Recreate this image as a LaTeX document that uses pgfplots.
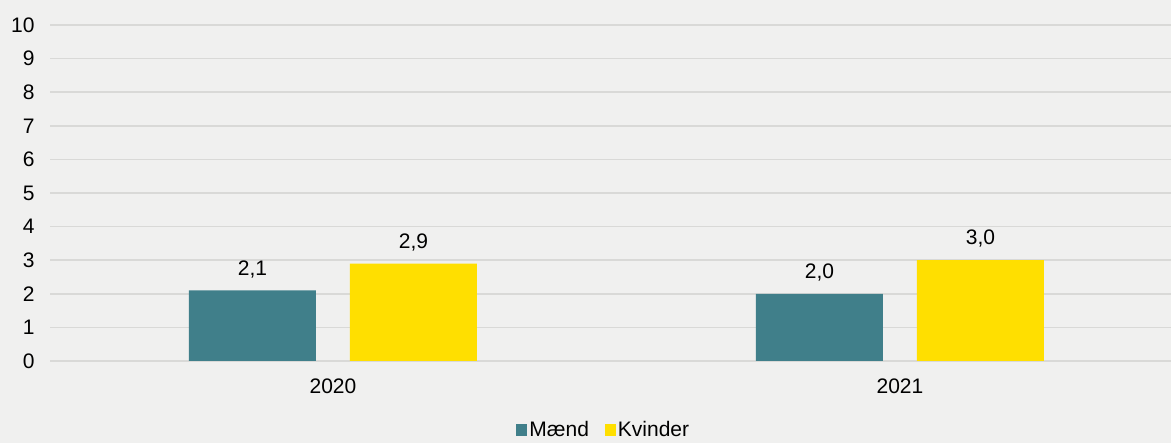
\documentclass[border=0pt]{standalone}
\usepackage{fontspec}
\setmainfont{Liberation Sans}
\usepackage{pgfplots}
\pgfplotsset{compat=1.18}
\definecolor{bg}{HTML}{F0F0EF}
\definecolor{grd}{HTML}{D9D9D7}
\definecolor{maend}{HTML}{407F8A}
\definecolor{kvinder}{HTML}{FFDF00}

\begin{document}
\begin{tikzpicture}[x=1pt,y=1pt]
\fill[bg] (0,0) rectangle (1171,443);
\useasboundingbox (0,0) rectangle (1171,443);
\begin{axis}[
    at={(50pt,82pt)}, anchor=south west,
    scale only axis, width=1121pt, height=336pt,
    xmin=-0.499, xmax=1.478, ymin=0, ymax=10,
    ybar=34pt, bar width=127pt,
    axis line style={draw=none},
    ytick={0,...,10}, xtick={0,1}, xticklabels={2020,2021},
    tick style={draw=none},
    ymajorgrids, grid style={grd, line width=1.5pt},
    font=\fontsize{21}{25}\selectfont,
    /pgf/number format/assume math mode=true,
    yticklabel style={xshift=-12pt},
    xticklabel style={yshift=-10pt},
    nodes near coords,
    nodes near coords style={yshift=9pt, /pgf/number format/.cd, use comma, fixed, fixed zerofill, precision=1},
    legend style={at={(0.494,-0.205)}, anchor=center, draw=none, fill=none,
        legend columns=-1, font=\fontsize{21}{25}\selectfont,
        /tikz/every even column/.append style={column sep=14pt}},
]
\addplot[fill=maend, draw=none,
    legend image code/.code={\fill[maend] (-4pt,-6pt) rectangle (7pt,6pt);}]
    coordinates {(0,2.1) (1,2.0)};
\addplot[fill=kvinder, draw=none,
    legend image code/.code={\fill[kvinder] (-4pt,-6pt) rectangle (7pt,6pt);}]
    coordinates {(0,2.9) (1,3.0)};
\legend{Mænd, Kvinder}
\end{axis}
\end{tikzpicture}
\end{document}
